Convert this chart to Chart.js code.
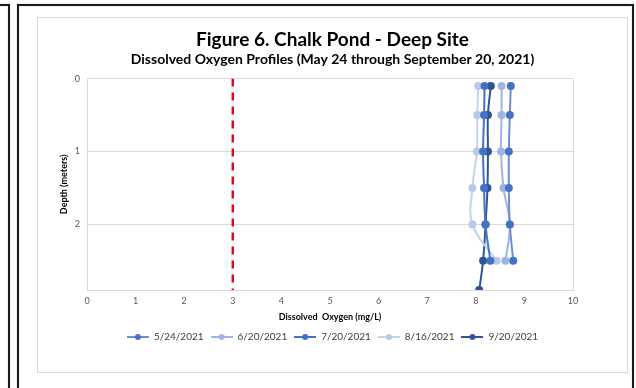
<!DOCTYPE html>
<html>
<head>
<meta charset="utf-8">
<script src="https://cdn.jsdelivr.net/npm/chart.js@4.4.0/dist/chart.umd.min.js"></script>
<style>
    html, body { margin: 0; padding: 0; background: #fff; }
    body { width: 636px; height: 388px; position: relative; overflow: hidden; }
    .rule { position: absolute; background: #1a1a1a; box-shadow: 0 0 1px #777; }
    #box { position: absolute; left: 37px; top: 17px; width: 589px; height: 354px; border: 1px solid #d9d9d9; }
</style>
</head>
<body>
<div class="rule" style="left:0;top:4px;width:10px;height:2px"></div>
<div class="rule" style="left:8px;top:4px;width:2px;height:384px"></div>
<div class="rule" style="left:17px;top:4px;width:617px;height:2px"></div>
<div class="rule" style="left:17px;top:4px;width:2px;height:384px"></div>
<div class="rule" style="left:632px;top:4px;width:2px;height:384px"></div>
<div id="box"><canvas id="doChart" width="589" height="354"></canvas></div>
<script>
// depth (m) of each reading
const depths = [0.1, 0.5, 1, 1.5, 2, 2.5];
const depthsSep = [0.1, 0.5, 1, 1.5, 2, 2.5, 2.9];

// dissolved oxygen (mg/L) per sampling date
const do0524 = [8.72, 8.70, 8.68, 8.68, 8.70, 8.77];
const do0620 = [8.53, 8.53, 8.52, 8.57, 8.70, 8.61];
const do0720 = [8.18, 8.17, 8.15, 8.17, 8.20, 8.30];
const do0816 = [8.05, 8.03, 8.02, 7.93, 7.93, 8.43];
const do0920 = [8.31, 8.25, 8.25, 8.24, 8.20, 8.15, 8.07];

const dates = ['5/24/2021', '6/20/2021', '7/20/2021', '8/16/2021', '9/20/2021'];
const threshold = 3;
const depthMax = 2.9;

const lineColors = ['#6e8fd0', '#9fb4e0', '#4472c4', '#c3d2ee', '#2f5597'];
const dotColors = ['#4472c4', '#9fb4e0', '#4472c4', '#b8c9ea', '#2f5597'];

const toPoints = (xs, ys) => xs.map((v, i) => ({ x: v, y: ys[i] }));

function legendIcon(line, dot) {
    const c = document.createElement('canvas');
    c.width = 22; c.height = 8;
    const g = c.getContext('2d');
    g.strokeStyle = line; g.lineWidth = 2;
    g.beginPath(); g.moveTo(0, 4); g.lineTo(22, 4); g.stroke();
    g.fillStyle = dot;
    g.beginPath(); g.arc(11, 4, 3, 0, Math.PI * 2); g.fill();
    return c;
}

const series = [
    toPoints(do0524, depths),
    toPoints(do0620, depths),
    toPoints(do0720, depths),
    toPoints(do0816, depths),
    toPoints(do0920, depthsSep)
];

const datasets = series.map((pts, i) => ({
    label: dates[i],
    data: pts,
    showLine: true,
    borderColor: lineColors[i],
    backgroundColor: dotColors[i],
    pointBackgroundColor: dotColors[i],
    pointBorderColor: dotColors[i],
    pointRadius: 3,
    borderWidth: 2,
    tension: 0.4
}));

datasets.push({
    label: 'threshold',
    data: [{ x: threshold, y: 0 }, { x: threshold, y: depthMax }],
    showLine: true,
    borderColor: '#d0101a',
    borderWidth: 2.5,
    borderDash: [8, 6],
    pointRadius: 0
});

const FONT = 'Lato, "Open Sans", sans-serif';

new Chart(document.getElementById('doChart'), {
    type: 'scatter',
    data: { datasets },
    options: {
        responsive: false,
        animation: false,
        layout: { padding: { left: 0, right: 0, top: 0, bottom: 20 } },
        plugins: {
            title: {
                display: true,
                text: 'Figure 6. Chalk Pond - Deep Site',
                color: '#000',
                font: { family: FONT, size: 19, weight: 'bold' },
                padding: { top: 10, bottom: 0 }
            },
            subtitle: {
                display: true,
                text: 'Dissolved Oxygen Profiles (May 24 through September 20, 2021)',
                color: '#000',
                font: { family: FONT, size: 14, weight: 'bold' },
                padding: { top: 0, bottom: 11 }
            },
            legend: {
                position: 'bottom',
                labels: {
                    filter: item => item.text !== 'threshold',
                    usePointStyle: true,
                    pointStyleWidth: 22,
                    padding: 7,
                    color: '#404040',
                    font: { family: FONT, size: 10 },
                    generateLabels: chart => chart.data.datasets.map((ds, i) => ({
                        text: ds.label,
                        datasetIndex: i,
                        pointStyle: i < dates.length ? legendIcon(lineColors[i], dotColors[i]) : 'line',
                        fillStyle: ds.borderColor,
                        strokeStyle: ds.borderColor,
                        lineWidth: 0,
                        fontColor: '#404040'
                    }))
                }
            },
            tooltip: { enabled: false }
        },
        scales: {
            x: {
                type: 'linear',
                min: 0,
                max: 10,
                afterFit: s => { s.height = 35; },
                ticks: { stepSize: 1, padding: 6, color: '#595959', font: { family: FONT, size: 9 } },
                grid: {
                    drawTicks: false,
                    color: ctx => (ctx.tick && (ctx.tick.value === 10)) ? '#d9d9d9' : 'rgba(0,0,0,0)'
                },
                border: { color: '#d9d9d9' },
                title: {
                    display: true,
                    text: 'Dissolved  Oxygen (mg/L)',
                    color: '#000',
                    font: { family: FONT, size: 9, weight: 'bold' },
                    padding: { top: 0, bottom: 3 }
                }
            },
            y: {
                type: 'linear',
                reverse: true,
                min: 0,
                max: depthMax,
                afterFit: s => { s.width = 49; },
                afterBuildTicks: s => { s.ticks = s.ticks.filter(t => Number.isInteger(t.value)); },
                ticks: { stepSize: 1, padding: 7, color: '#595959', font: { family: FONT, size: 9 } },
                grid: { drawTicks: false, color: '#d9d9d9' },
                border: { color: '#d9d9d9' },
                title: {
                    display: true,
                    text: 'Depth (meters)',
                    color: '#000',
                    font: { family: FONT, size: 9, weight: 'bold' },
                    padding: { top: 21, bottom: 0 }
                }
            },
            spacer: {
                type: 'linear',
                position: 'right',
                afterFit: s => { s.width = 54; },
                ticks: { display: false },
                grid: { display: false },
                border: { display: false }
            }
        }
    }
});
</script>
</body>
</html>
